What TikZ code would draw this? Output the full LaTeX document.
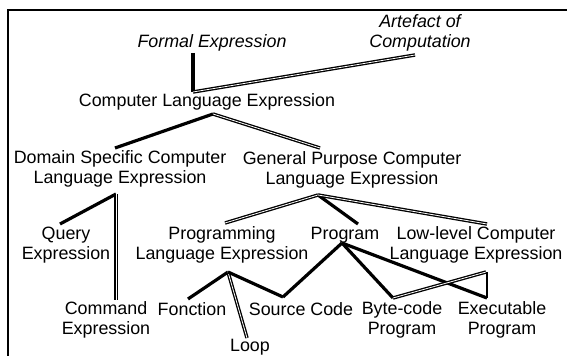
\documentclass[tikz,border=0pt]{standalone}
\usepackage{fontspec}
\setmainfont{Liberation Sans}
\usepackage{tikz}

\tikzset{
  lbl/.style={inner sep=0pt, align=center, font=\fontsize{13.4}{15}\selectfont},
  thickline/.style={line width=2.4pt},
  doubleline/.style={line width=1pt, double=white, double distance=0.6pt},
  thinline/.style={line width=0.9pt}
}

\begin{document}
\begin{tikzpicture}[x=0.75pt, y=-0.75pt]
      \useasboundingbox (0,0) rectangle (567,356);
      \draw[line width=1.5pt] (8,356) -- (8,10) -- (567,10);

	\node[lbl, font=\fontsize{13.4}{15}\selectfont\itshape] (formal) at (212,43) {Formal Expression};
	\node[lbl, font=\fontsize{13.4}{15}\selectfont\itshape] (artefact) at (420,33) {Artefact of\\Computation};
	\node[lbl] (cle) at (207,102) {Computer Language Expression};

	\node[lbl] (ds) at (120,169) {Domain Specific Computer\\Language Expression};
	\node[lbl] (gp) at (352,170) {General Purpose Computer\\Language Expression};

	\node[lbl] (query) at (66,245) {Query\\Expression};
	\node[lbl] (command) at (106,320) {Command\\Expression};

	\node[lbl] (ple) at (222,245) {Programming\\Language Expression};
	\node[lbl] (program) at (345,235) {Program};
	\node[lbl] (lowlevel) at (476,245) {Low-level Computer\\Language Expression};

	\node[lbl] (fonction) at (192,309) {Fonction};
	\node[lbl] (loop) at (250,347) {Loop};
	\node[lbl] (source) at (301,309) {Source Code};
	\node[lbl] (bytecode) at (402,320) {Byte-code\\Program};
	\node[lbl] (executable) at (502,320) {Executable\\Program};

      \draw[thickline] ([shift={(-19,10)}]formal.center) -- ([shift={(-14,-10)}]cle.center);
      \draw[doubleline] ([shift={(-5,22)}]artefact.center) -- ([shift={(-14,-10)}]cle.center);

      \draw[thickline] ([shift={(6,12)}]cle.center) -- ([shift={(-5,-21)}]ds.center);
      \draw[doubleline] ([shift={(6,12)}]cle.center) -- ([shift={(-32,-22)}]gp.center);

      \draw[thickline] ([shift={(-4,25)}]ds.center) -- ([shift={(-6,-21)}]query.center);
      \draw[doubleline] ([shift={(-4,25)}]ds.center) -- ([shift={(10,-20)}]command.center);

      \draw[doubleline] ([shift={(-34,25)}]gp.center) -- ([shift={(3,-22)}]ple.center);
      \draw[thickline] ([shift={(-34,25)}]gp.center) -- ([shift={(13,-11)}]program.center);
      \draw[doubleline] ([shift={(-34,25)}]gp.center) -- ([shift={(11,-21)}]lowlevel.center);

      \draw[thickline] ([shift={(6,27)}]ple.center) -- ([shift={(-4,-10)}]fonction.center);
      \draw[doubleline] ([shift={(6,27)}]ple.center) -- ([shift={(-3,-9)}]loop.center);
      \draw[thickline] ([shift={(6,27)}]ple.center) -- ([shift={(-18,-12)}]source.center);

      \draw[thickline] ([shift={(-3,8)}]program.center) -- ([shift={(-18,-12)}]source.center);
      \draw[thickline] ([shift={(-3,8)}]program.center) -- ([shift={(-9,-22)}]bytecode.center);
      \draw[thickline] ([shift={(-3,8)}]program.center) -- ([shift={(-15,-22)}]executable.center);

      \draw[doubleline] ([shift={(10,27)}]lowlevel.center) -- ([shift={(-9,-22)}]bytecode.center);
      \draw[thinline] ([shift={(11,27)}]lowlevel.center) -- ([shift={(-15,-22)}]executable.center);
\end{tikzpicture}
\end{document}
